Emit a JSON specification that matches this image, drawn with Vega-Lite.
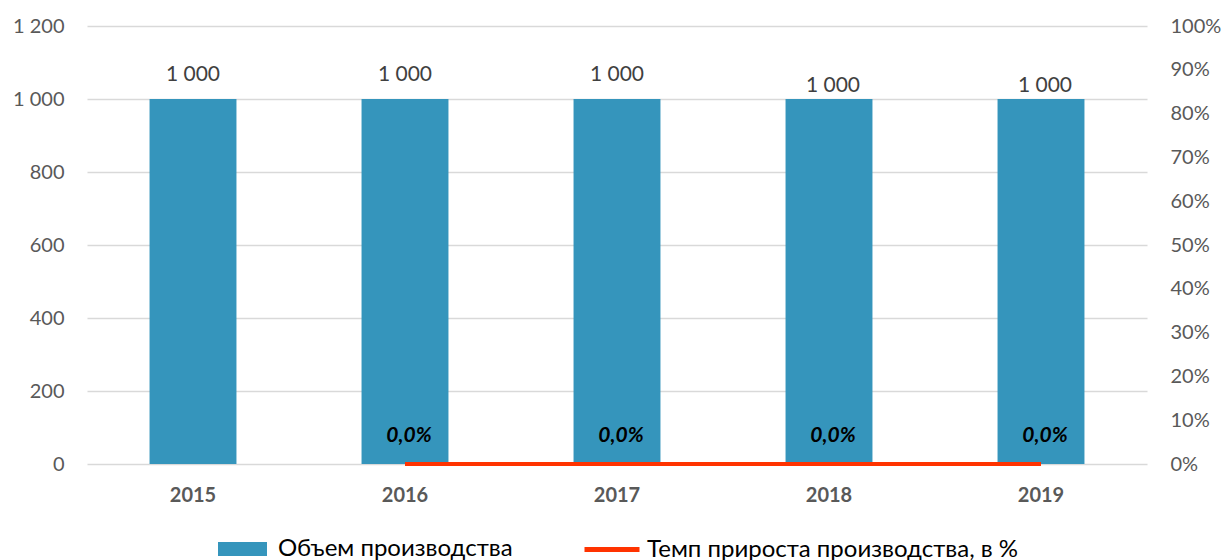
{
  "$schema": "https://vega.github.io/schema/vega-lite/v6.json",
  "width": 1060,
  "height": 438,
  "autosize": {"type": "none"},
  "padding": {"left": 87, "top": 26, "right": 78, "bottom": 96},
  "config": {
    "locale": {"number": {"decimal": ",", "thousands": " ", "grouping": [3], "currency": ["", ""], "percent": "%"}},
    "view": {"stroke": null},
    "font": "Lato",
    "legend": {"layout": {"bottom": {"anchor": "middle", "direction": "horizontal", "margin": 69}}}
  },
  "data": {
    "values": [
      {"year": "2015", "volume": 1000, "growth": null, "lblpos": "high"},
      {"year": "2016", "volume": 1000, "growth": 0, "lblpos": "high"},
      {"year": "2017", "volume": 1000, "growth": 0, "lblpos": "high"},
      {"year": "2018", "volume": 1000, "growth": 0, "lblpos": "low"},
      {"year": "2019", "volume": 1000, "growth": 0, "lblpos": "low"}
    ]
  },
  "encoding": {
    "x": {
      "field": "year", "type": "nominal",
      "scale": {"paddingInner": 0.59, "paddingOuter": 0.295},
      "axis": {"title": null, "labelAngle": 0, "domain": false, "ticks": false, "labelFont": "Lato", "labelFontSize": 20, "labelFontWeight": "bold", "labelColor": "#595959", "labelPadding": 21}
    }
  },
  "layer": [
    {
      "layer": [
        {
          "mark": {"type": "bar"},
          "encoding": {
            "y": {"field": "volume", "type": "quantitative", "scale": {"domain": [0, 1200]},
              "axis": {"title": null, "values": [0, 200, 400, 600, 800, 1000, 1200], "format": ",d", "domain": false, "ticks": false, "gridColor": "#d9d9d9", "gridWidth": 1.5, "labelFontSize": 20, "labelColor": "#595959", "labelPadding": 23}},
            "fill": {"datum": "Объем производства", "type": "nominal",
              "scale": {"range": ["#3595BC"]},
              "legend": {"title": null, "orient": "bottom", "symbolType": "M-1,-0.7H3.9V0.7H-1Z", "symbolSize": 400, "symbolStrokeWidth": 0, "labelFontSize": 24, "labelColor": "#000000", "labelOffset": 38, "labelLimit": 0, "offset": 32}}
          }
        },
        {
          "transform": [{"filter": "datum.lblpos == 'high'"}],
          "mark": {"type": "text", "dy": -24, "fontSize": 21, "color": "#404040"},
          "encoding": {
            "y": {"field": "volume", "type": "quantitative"},
            "text": {"field": "volume", "type": "quantitative", "format": ",d"}
          }
        },
        {
          "transform": [{"filter": "datum.lblpos == 'low'"}],
          "mark": {"type": "text", "dy": -13, "dx": 4, "fontSize": 21, "color": "#404040"},
          "encoding": {
            "y": {"field": "volume", "type": "quantitative"},
            "text": {"field": "volume", "type": "quantitative", "format": ",d"}
          }
        }
      ]
    },
    {
      "transform": [{"filter": "datum.growth != null"}],
      "layer": [
        {
          "mark": {"type": "line", "strokeWidth": 4},
          "encoding": {
            "y": {"field": "growth", "type": "quantitative", "scale": {"domain": [0, 1]},
              "axis": {"title": null, "orient": "right", "values": [0, 0.1, 0.2, 0.3, 0.4, 0.5, 0.6, 0.7, 0.8, 0.9, 1], "format": ".0%", "grid": false, "domain": false, "ticks": false, "labelFontSize": 20, "labelColor": "#595959", "labelPadding": 23}},
            "stroke": {"datum": "Темп прироста производства, в %", "type": "nominal",
              "scale": {"range": ["#FF3300"]},
              "legend": {"title": null, "orient": "bottom", "symbolType": "M-1,0H4.5", "symbolSize": 400, "symbolStrokeWidth": 5, "labelFontSize": 24, "labelColor": "#000000", "labelOffset": 40, "labelLimit": 0, "offset": 32}}
          }
        },
        {
          "mark": {"type": "text", "dy": -28, "dx": 4, "fontSize": 21, "fontWeight": "bold", "fontStyle": "italic", "color": "#000000"},
          "encoding": {
            "y": {"field": "growth", "type": "quantitative"},
            "text": {"field": "growth", "type": "quantitative", "format": ".1%"}
          }
        }
      ]
    }
  ],
  "resolve": {"scale": {"y": "independent"}}
}
